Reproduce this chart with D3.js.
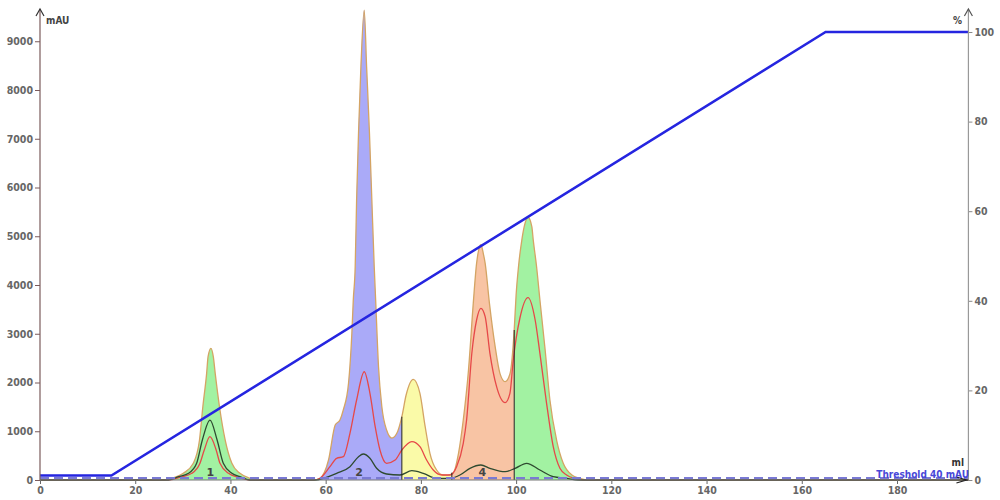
<!DOCTYPE html>
<html><head><meta charset="utf-8">
<script src="https://cdn.jsdelivr.net/npm/d3@7"></script>
<style>
html,body{margin:0;padding:0;background:#fff;}
svg{display:block;font-family:"DejaVu Sans Condensed","DejaVu Sans",sans-serif;}
</style></head>
<body>
<svg id="c" width="1000" height="500"></svg>
<script>
// ---------- data (ml, mAU) ----------
const uvVol = [0,26,27.7,30.1,32.2,33.5,34.2,35.0,35.3,35.9,36.4,36.8,37.7,38.9,40.3,42.0,44.1,46,57.5,58.8,60.6,62.0,63.0,63.7,64.8,65.5,65.8,66.2,66.5,66.9,67.4,68.1,68.6,69.2,69.7,70.2,70.5,71.1,71.8,72.8,73.9,75.1,76.0,76.9,78.4,79.8,80.9,81.9,83.3,84.7,85.6,86.8,87.9,88.9,90.0,91.0,91.7,92.0,92.6,93.1,93.5,94.4,95.6,96.6,97.7,98.7,99.6,100.0,100.5,101.2,101.7,102.5,103.3,103.6,104.3,105.0,106.1,107.1,108.5,109.9,111.7,113.4,115,195];
const uvVal = [0,0,35,137,343,820,1503,2188,2529,2701,2529,2188,1503,820,343,137,35,0,0,35,410,1128,1231,1436,1983,3009,3692,4375,5743,7111,8477,9640,8477,7111,5743,4375,3692,2324,1503,1026,861,991,1298,1743,2065,1778,1093,548,205,103,100,150,548,1231,2256,3624,4444,4650,4830,4650,4444,3624,2734,2188,2016,2174,3077,3795,4375,4922,5196,5390,5196,4922,4375,3692,2666,1641,820,343,103,35,0,0];

const uv2Vol = [0,27,29.4,31.9,33.6,34.5,35.7,37.0,37.8,39.6,41.7,44,57.5,58.8,60.9,62.3,63.7,65.1,66.5,68.1,69.3,70.4,71.4,72.8,74.6,76.0,78.1,79.8,81.2,82.6,84.4,86.1,87.5,88.9,89.6,90.7,91.7,92.6,93.5,94.5,95.9,97.7,98.7,99.4,100.8,102.5,104.0,105.0,106.4,107.8,109.2,110.6,112.4,114,195];
const uv2Val = [0,0,55,137,343,615,888,615,343,137,55,0,0,35,273,445,478,958,1641,2221,1778,1093,615,343,410,615,786,683,410,205,103,103,273,753,1231,2599,3282,3522,3350,2599,1914,1586,1778,2461,3323,3743,3282,2599,1573,683,240,103,30,0,0];

const uv3Vol = [0,27,29.1,31.2,32.9,34.1,35.7,37.2,38.5,40.3,42.0,44,58,59.5,62.3,65.1,66.9,67.9,69.3,70.7,72.8,75.6,78.1,80.5,83.3,86.1,88.2,90.3,92.6,94.5,97.7,99.8,102.2,105.0,107.8,110.6,113,195];
const uv3Val = [0,0,68,137,343,820,1230,820,343,137,68,0,0,35,137,273,478,533,445,240,123,103,191,137,35,35,103,240,308,240,170,240,343,205,68,35,0,0];

const gradVol = [0,15,165,195];
const gradPct = [1,1,100,100];

const fracStart = [27,58.5,76.0,86.5,99.6];
const fracEnd   = [45,76.0,86.5,99.6,114];
const cutVol = [76.0,86.5,99.6];

const peakLabels = ["1","2","4"];
const peakVol = [35.8,67.0,92.9];

const xTicks = [0,20,40,60,80,100,120,140,160,180];
const yTicks = [0,1000,2000,3000,4000,5000,6000,7000,8000,9000];
const pTicks = [0,20,40,60,80,100];
const threshold = 40;
const xMax = 195;

// ---------- styles ----------
const fracColors = ["#a2f2a2","#aaaaf8","#fafaa8","#f8c4a4","#a2f2a2"];

const svg = d3.select("#c");
const x = d3.scaleLinear().domain([0,180]).range([40,897]);
const y = d3.scaleLinear().domain([0,9000]).range([480,41.25]);
const yp = d3.scaleLinear().domain([0,100]).range([480,32]);

const uv = uvVol.map((v,i)=>[v,uvVal[i]]);
const uv2 = uv2Vol.map((v,i)=>[v,uv2Val[i]]);
const uv3 = uv3Vol.map((v,i)=>[v,uv3Val[i]]);

const area = d3.area().x(d=>x(d[0])).y0(y(0)).y1(d=>y(d[1])).curve(d3.curveMonotoneX);
const line = d3.line().x(d=>x(d[0])).y(d=>y(d[1])).curve(d3.curveMonotoneX);

const defs = svg.append("defs");
fracStart.forEach((s,i)=>{
  defs.append("clipPath").attr("id","fc"+i).append("rect")
    .attr("x",x(s)).attr("y",0).attr("width",x(fracEnd[i])-x(s)).attr("height",y(0));
  svg.append("path").datum(uv).attr("d",area).attr("fill",fracColors[i])
    .attr("clip-path","url(#fc"+i+")");
});

svg.append("path").datum(uv).attr("d",line).attr("fill","none").attr("stroke","#d4a464").attr("stroke-width",1.3);
svg.append("path").datum(uv2).attr("d",line).attr("fill","none").attr("stroke","#e64848").attr("stroke-width",1.3);
svg.append("path").datum(uv3).attr("d",line).attr("fill","none").attr("stroke","#2e4a30").attr("stroke-width",1.3);

// fraction cut lines
const interp = (vv)=>{ let i = uvVol.findIndex(v=>v>=vv); return uvVal[i]; };
cutVol.forEach(v=>{
  svg.append("line").attr("x1",x(v)).attr("x2",x(v)).attr("y1",y(0)).attr("y2",y(interp(v)))
    .attr("stroke","#222").attr("stroke-width",1);
});

// threshold
svg.append("line").attr("x1",x(0)).attr("x2",x(xMax)).attr("y1",y(threshold)).attr("y2",y(threshold))
  .attr("stroke","#7a7ad4").attr("stroke-width",2.2).attr("stroke-dasharray","9,5");

// gradient
const grad = gradVol.map((v,i)=>[v,gradPct[i]]);
svg.append("path").datum(grad).attr("d",d3.line().x(d=>x(d[0])).y(d=>yp(d[1])))
  .attr("fill","none").attr("stroke","#2525e0").attr("stroke-width",2.5);

// axes
const tickFont = g=>g.selectAll("text").attr("font-size","10.5px").attr("font-weight","bold").attr("fill","#666")
  .attr("font-family","'DejaVu Sans Condensed','DejaVu Sans',sans-serif");

const gl = svg.append("g").attr("transform","translate(40,0)")
  .call(d3.axisLeft(y).tickValues(yTicks).tickSize(5).tickPadding(2).tickFormat(d3.format("d")));
gl.select(".domain").remove();
gl.selectAll("line").attr("stroke","#7b5b5b");
tickFont(gl);
svg.append("line").attr("x1",40).attr("x2",40).attr("y1",480).attr("y2",9).attr("stroke","#7b5b5b").attr("stroke-width",1.2);
svg.append("path").attr("d","M36,16 L40,9 L44,16").attr("fill","none").attr("stroke","#333").attr("stroke-width",1.2);

const gr = svg.append("g").attr("transform","translate("+x(xMax)+",0)")
  .call(d3.axisRight(yp).tickValues(pTicks).tickSize(4).tickPadding(2));
gr.select(".domain").remove();
gr.selectAll("line").attr("stroke","#888");
tickFont(gr);
svg.append("line").attr("x1",x(xMax)).attr("x2",x(xMax)).attr("y1",480).attr("y2",9).attr("stroke","#999").attr("stroke-width",1.2);
svg.append("path").attr("d",`M${x(xMax)-4},16 L${x(xMax)},9 L${x(xMax)+4},16`).attr("fill","none").attr("stroke","#555").attr("stroke-width",1.2);

const gb = svg.append("g").attr("transform","translate(0,480)")
  .call(d3.axisBottom(x).tickValues(xTicks).tickSize(4).tickPadding(3));
gb.select(".domain").remove();
gb.selectAll("line").attr("stroke","#666");
tickFont(gb);
svg.append("line").attr("x1",40).attr("x2",x(xMax)).attr("y1",480).attr("y2",480).attr("stroke","#777").attr("stroke-width",1.2);
svg.append("path").attr("d",`M${x(xMax)-12},477 L${x(xMax)-2},480 L${x(xMax)-12},483`).attr("fill","none").attr("stroke","#222").attr("stroke-width",1.3);

// axis titles
const lab = (t,xx,yy,anchor,col)=>svg.append("text").text(t).attr("x",xx).attr("y",yy)
  .attr("text-anchor",anchor||"start").attr("font-size","10px").attr("font-weight","bold").attr("fill",col||"#444");
lab("mAU",46,24);
lab("%",962,24,"end");
lab("ml",964,466,"end","#333");
lab("Threshold 40 mAU",969,478,"end","#4848d8");

// peak labels
peakLabels.forEach((t,i)=>{
  svg.append("text").text(t).attr("x",x(peakVol[i])).attr("y",476).attr("text-anchor","middle")
    .attr("font-size","11px").attr("font-weight","bold").attr("fill","#444")
    .attr("font-family","'DejaVu Sans',sans-serif");
});
</script>
</body></html>
